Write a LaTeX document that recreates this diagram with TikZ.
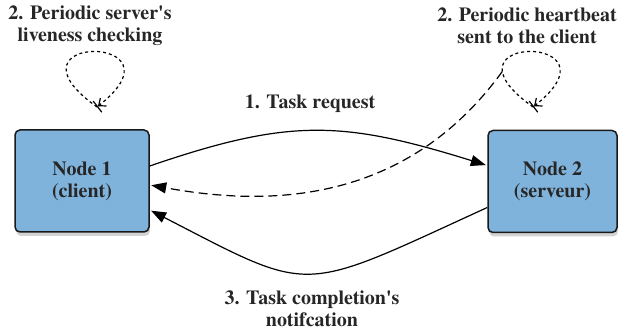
\documentclass[tikz,border=0pt]{standalone}
\usepackage{fontspec}
\newfontfamily\labelFont{texgyretermes}[Extension=.otf,UprightFont=*-regular,BoldFont=*-bold]
\usetikzlibrary{arrows.meta,shadows}
\definecolor{nodeBlue}{RGB}{128,179,219}
\definecolor{textGray}{RGB}{38,38,38}

\begin{document}
\begin{tikzpicture}
[x=1pt,y=1pt,
  every node/.style={font=\labelFont\fontsize{20}{22}\selectfont\bfseries,text=textGray,align=center},%
  nodeBox/.style={draw=black!90,line width=1.5pt,fill=nodeBlue,rounded corners=5pt,
    minimum height=102pt,drop shadow={shadow xshift=1pt,shadow yshift=-4pt,opacity=0.35}},%
  lineDecorate/.style={line width=1.2pt,shorten >=1.5pt,-{Triangle[length=15pt,width=11pt]}},%
  dashDecorate/.style={lineDecorate,dash pattern=on 9pt off 5pt},%
  loopDecorate/.style={line width=1.2pt,dash pattern=on 3pt off 3pt,
    -{Straight Barb[length=6pt,width=10pt]Bar[width=14pt]}}]
\useasboundingbox (0,0) rectangle (619,331);
\node[nodeBox,minimum width=134pt] (client) at (82,150) {Node 1\\(client)};
\node[nodeBox,minimum width=129pt] (server) at (552.5,149.5) {Node 2\\(serveur)};
\node (serverLabel) at (90,305) {2. Periodic server\textquotesingle s\\liveness checking};
\node (beatLabel) at (527,305) {2. Periodic heartbeat\\sent to the client};
\node (taskLabel) at (310,227) {1. Task request};
\node (doneLabel) at (312,22) {3. Task completion\textquotesingle s\\notifcation};
\foreach \loopName/\tipX in {serverLoop/97, beatLoop/533}
{
  \coordinate (\loopName) at (\tipX,224);
  \draw[loopDecorate] (\loopName) .. controls +(-104,74) and +(96,74) .. (\loopName)
    coordinate[pos=0.2] (\loopName Side);
}
\draw[lineDecorate] ([yshift=15pt]client.east)
  .. controls +(140,48) and +(-145,45) .. ([yshift=16pt]server.west);
\draw[dashDecorate] (beatLoopSide)
  .. controls +(-105,-145) and +(95,-17) .. ([yshift=-4pt]client.east);
\draw[lineDecorate] ([yshift=-26pt]server.west)
  .. controls +(-190,-87) and +(165,-85) .. ([yshift=-29pt]client.east);
\end{tikzpicture}
\end{document}
